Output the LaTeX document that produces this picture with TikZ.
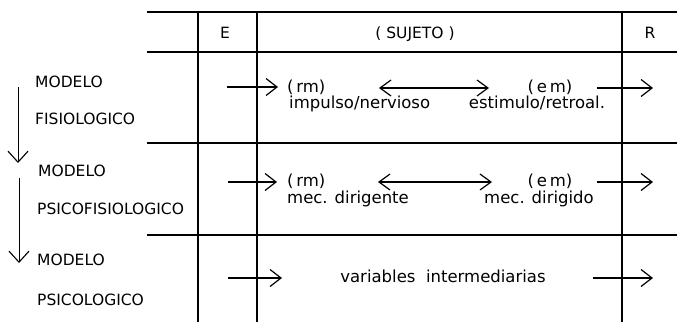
\documentclass[tikz,border=0pt]{standalone}
\usepackage{fontspec}
\setmainfont{DejaVu Sans}
\usetikzlibrary{arrows.meta}
\begin{document}
\begin{tikzpicture}[x=1pt,y=-1pt,
  rule/.style={line width=2pt},
  flow/.style={line width=1.2pt,-{Straight Barb[length=11pt,width=17pt,line width=1.2pt]}},
  both/.style={line width=1.2pt,{Straight Barb[length=11pt,width=16pt,line width=1.2pt]}-{Straight Barb[length=11pt,width=16pt,line width=1.2pt]}},
  down/.style={line width=1pt,-{Straight Barb[length=11pt,width=20pt,line width=1.1pt]}},
  caps/.style={inner sep=0pt,font=\fontsize{15.5}{18}\selectfont},
  lower/.style={inner sep=0pt,font=\fontsize{16.5}{18}\selectfont}]
\useasboundingbox (0,0) rectangle (677,322);

% table rules
\draw[rule] (147,12) -- (677,12);
\draw[rule] (147,52) -- (677,52);
\draw[rule] (147,143) -- (677,143);
\draw[rule] (147,235) -- (677,235);
\draw[rule] (198,12) -- (198,322);
\draw[rule] (257,12) -- (257,322);
\draw[rule] (622,12) -- (622,322);

% header
\node[caps,anchor=base] (hE) at (225,38) {E};
\node[caps,anchor=base] (hS) at (415,38) {( SUJETO )};
\node[caps,anchor=base] (hR) at (650,38) {R};

% model names on the left
\node[caps,anchor=base west] (m1a) at (35,87) {MODELO};
\node[caps,anchor=base west] (m1b) at (35,124) {FISIOLOGICO};
\node[caps,anchor=base west] (m2a) at (38,176) {MODELO};
\node[caps,anchor=base west] (m2b) at (37,214) {PSICOFISIOLOGICO};
\node[caps,anchor=base west] (m3a) at (37,265) {MODELO};
\node[caps,anchor=base west] (m3b) at (37,305) {PSICOLOGICO};

% progression arrows between models
\coordinate (d1s) at (18,87);  \coordinate (d1e) at (18,163);
\coordinate (d2s) at (19,178); \coordinate (d2e) at (19,263);
\draw[down] (d1s) -- (d1e);
\draw[down] (d2s) -- (d2e);

% row 1: physiological model
\node[lower,anchor=base west] (rm1) at (287,92) {(\,rm)};
\node[lower,anchor=base west] (rm1t) at (289,108) {impulso/nervioso};
\node[lower,anchor=base] (em1) at (550,92) {(\,e\,m)};
\node[lower,anchor=base] (em1t) at (537,108) {estimulo/retroal.};
\coordinate (e1) at (227,87);  \coordinate (e1t) at (278,87);
\coordinate (b1l) at (379,88); \coordinate (b1r) at (489,88);
\coordinate (r1) at (597,88);  \coordinate (r1t) at (653,88);
\draw[flow] (e1) -- (e1t);
\draw[both] (b1l) -- (b1r);
\draw[flow] (r1) -- (r1t);

% row 2: psychophysiological model
\node[lower,anchor=base west] (rm2) at (287,186) {(\,rm)};
\node[lower,anchor=base west] (rm2t) at (287,203) {mec. dirigente};
\node[lower,anchor=base] (em2) at (550,186) {(\,e\,m)};
\node[lower,anchor=base] (em2t) at (539,203) {mec. dirigido};
\coordinate (e2) at (228,182); \coordinate (e2t) at (277,182);
\coordinate (b2l) at (378,182); \coordinate (b2r) at (492,182);
\coordinate (r2) at (597,182); \coordinate (r2t) at (653,182);
\draw[flow] (e2) -- (e2t);
\draw[both] (b2l) -- (b2r);
\draw[flow] (r2) -- (r2t);

% row 3: psychological model
\node[lower,anchor=base] (vi) at (443,282) {variables\ \ intermediarias};
\coordinate (e3) at (228,278); \coordinate (e3t) at (282,278);
\coordinate (r3) at (593,278); \coordinate (r3t) at (653,278);
\draw[flow] (e3) -- (e3t);
\draw[flow] (r3) -- (r3t);
\end{tikzpicture}
\end{document}
